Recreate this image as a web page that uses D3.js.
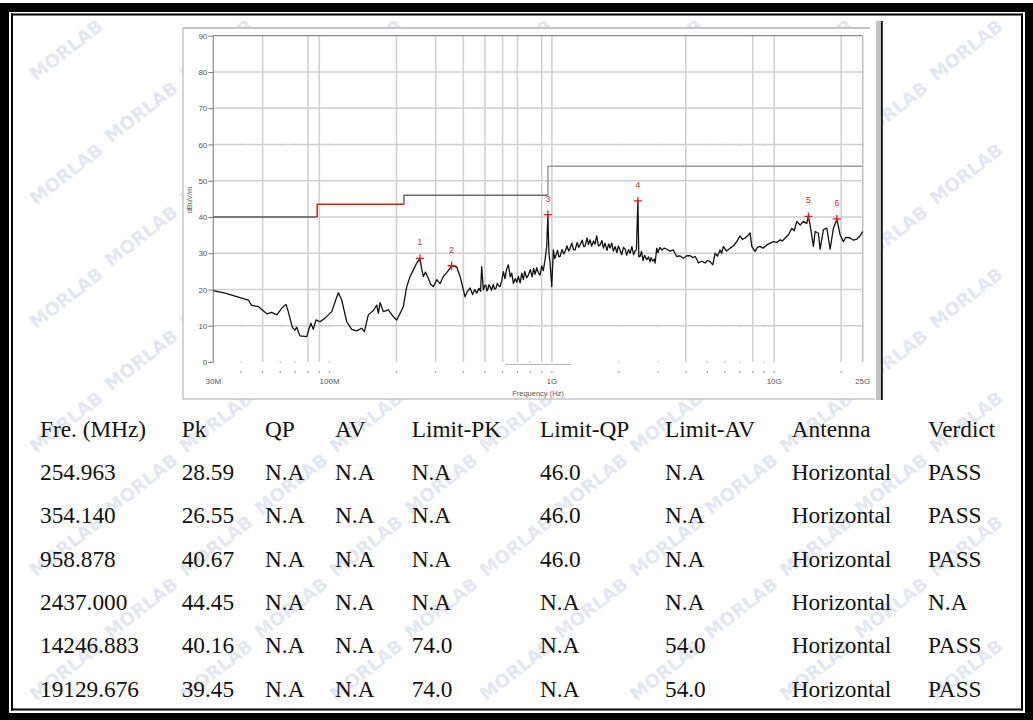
<!DOCTYPE html>
<html>
<head>
<meta charset="utf-8">
<script src="https://cdn.jsdelivr.net/npm/d3@7"></script>
<style>
  html, body { margin: 0; padding: 0; background: #fff; }
  svg { display: block; }
</style>
</head>
<body>
<svg id="page" width="1033" height="720"></svg>
<script>
// trace (MHz / dBuV/m)
const traceFreq = [30, 33.9, 38.9, 43.1, 44.6, 47.8, 52.2, 54.9, 57.9, 60.9, 63.7, 65.2, 68.0, 69.9, 71.2, 73.6, 79.0, 80.9, 82.5, 84.5, 86.9, 90.6, 95.4, 102.3, 106.6, 109.5, 113.4, 119.5, 125.8, 132.5, 139.6, 143.4, 149.4, 157.4, 163.0, 165.7, 168.7, 174.5, 183.8, 193.5, 200.5, 207.5, 214.7, 222.4, 230.2, 238.1, 246.7, 255.0, 260, 264.2, 270, 278.2, 285, 293.0, 303.5, 314, 324.9, 336, 348.3, 354.1, 373.3, 386.4, 406.9, 417, 428.5, 440, 450, 459.2, 470, 477.6, 483.6, 491.6, 498, 505, 510, 515, 521, 527.1, 535, 545, 552, 560, 568, 575, 584.8, 595, 605.1, 615, 625, 637.2, 650, 660, 671.1, 685, 695, 706.6, 720, 732, 744.2, 755, 770, 783.7, 800, 815, 828, 840, 855, 870, 884.8, 900, 915, 931.6, 948.3, 958.9, 970, 981.1, 998.6, 1015, 1030, 1044, 1060, 1075, 1088, 1110, 1130, 1146, 1170, 1190, 1207, 1230, 1250, 1271, 1300, 1320, 1339, 1370, 1390, 1410, 1440, 1460, 1485, 1510, 1540, 1564, 1590, 1620, 1647, 1680, 1705, 1734, 1770, 1800, 1826, 1860, 1890, 1924, 1960, 1990, 2025, 2060, 2100, 2134, 2170, 2210, 2247, 2290, 2330, 2367, 2400, 2437, 2460, 2492, 2530, 2570, 2610, 2671, 2720, 2760, 2793, 2840, 2890, 2912, 2963, 3000, 3060, 3121, 3200, 3286, 3400, 3519, 3590, 3646, 3760, 3904, 4050, 4186, 4300, 4408, 4480, 4561, 4700, 4887, 5000, 5148, 5293, 5420, 5550, 5709, 5800, 5907, 6100, 6331, 6550, 6785, 7020, 7200, 7394, 7600, 7788, 7926, 8203, 8400, 8640, 8900, 9258, 9600, 9915, 10300, 10627, 10900, 11194, 11583, 11998, 12300, 12637, 13077, 13531, 14000, 14247, 14502, 15006, 15274, 15805, 16087, 16646, 17244, 17842, 18463, 19130, 19786, 20473, 21000, 21941, 22700, 23519, 24200, 25000];
const traceLevel = [19.7, 19.0, 17.9, 17.1, 15.6, 15.3, 13.3, 13.7, 13.0, 14.8, 15.9, 13.9, 9.6, 8.8, 9.6, 7.2, 7.0, 9.3, 10.7, 9.0, 11.6, 11.1, 12.1, 13.9, 17.1, 19.1, 17.1, 11.1, 9.0, 8.6, 9.3, 8.4, 13.0, 14.2, 15.7, 13.4, 16.4, 13.9, 14.4, 12.5, 11.6, 13.4, 15.3, 20.8, 23.6, 25.4, 27.3, 28.5, 25.5, 23.6, 24.8, 23.1, 21.4, 20.8, 22.7, 21.6, 23.6, 24.6, 25.9, 26.5, 26.2, 23.6, 18.0, 19.5, 20.4, 18.6, 20.0, 19.0, 20.3, 19.5, 26.3, 19.9, 21.0, 21.2, 19.6, 20.0, 21.3, 20.8, 19.8, 21.4, 20.1, 20.3, 21.7, 21.1, 20.8, 22.5, 24.9, 23.0, 25.5, 26.8, 23.5, 24.5, 21.7, 23.0, 22.0, 23.6, 21.8, 24.5, 22.7, 25.0, 23.2, 24.0, 25.5, 23.5, 25.8, 24.2, 26.0, 24.6, 24.0, 26.5, 25.2, 28.2, 31.9, 40.6, 30.0, 27.3, 20.8, 30.9, 28.5, 29.5, 30.8, 29.0, 29.1, 31.0, 29.8, 30.5, 32.0, 30.6, 31.4, 32.8, 31.0, 30.9, 33.0, 31.6, 32.3, 33.6, 31.8, 32.0, 34.2, 32.4, 33.7, 32.0, 33.4, 32.5, 34.8, 32.0, 32.3, 33.5, 31.4, 32.8, 30.8, 32.6, 31.4, 32.8, 30.6, 31.8, 30.2, 32.0, 30.9, 29.6, 31.6, 31.2, 29.5, 31.0, 30.0, 31.8, 29.6, 30.6, 31.0, 44.4, 29.0, 29.1, 30.5, 28.0, 29.4, 28.2, 29.0, 27.6, 28.8, 27.8, 28.4, 27.3, 31.4, 30.2, 31.6, 30.9, 31.4, 31.1, 30.6, 30.9, 29.8, 29.1, 29.3, 28.6, 29.3, 29.3, 28.8, 29.1, 28.4, 27.3, 27.8, 27.3, 28.0, 27.7, 26.8, 30.0, 29.2, 30.9, 30.0, 31.9, 30.6, 31.4, 32.0, 33.2, 34.8, 33.8, 34.2, 34.8, 35.6, 31.9, 30.5, 31.6, 31.9, 31.4, 32.3, 32.8, 33.2, 33.0, 33.7, 33.4, 34.2, 35.1, 36.9, 36.2, 38.8, 37.8, 38.8, 38.2, 40.1, 37.8, 31.9, 36.0, 35.5, 31.1, 36.5, 36.9, 31.1, 36.9, 39.4, 35.1, 33.2, 34.4, 34.2, 33.6, 33.9, 34.6, 36.0];

// limit line steps
const limitStart = [30, 88, 216, 960];
const limitEnd = [88, 216, 960, 25000];
const limitLevel = [40, 43.5, 46, 54];
const limitColor = ['#5a5a5a', '#e41a1a', '#6a6a6a', '#9a9a9a'];

// grid
const yTicks = [0, 10, 20, 30, 40, 50, 60, 70, 80, 90];
const gridFreq = [50, 80, 90, 200, 300, 400, 500, 600, 700, 900, 1000, 4000, 8000, 10000, 20000];
const faintFreq = [40, 60, 70, 100, 800, 2000, 3000, 5000, 6000, 7000, 9000];
const xLabelFreq = [30, 100, 1000, 10000, 25000];
const xLabelText = ['30M', '100M', '1G', '10G', '25G'];

// result table
const tableHeader = ['Fre. (MHz)', 'Pk', 'QP', 'AV', 'Limit-PK', 'Limit-QP', 'Limit-AV', 'Antenna', 'Verdict'];
const freqCol = ['254.963', '354.140', '958.878', '2437.000', '14246.883', '19129.676'];
const pkCol = ['28.59', '26.55', '40.67', '44.45', '40.16', '39.45'];
const qpCol = ['N.A', 'N.A', 'N.A', 'N.A', 'N.A', 'N.A'];
const avCol = ['N.A', 'N.A', 'N.A', 'N.A', 'N.A', 'N.A'];
const limitPkCol = ['N.A', 'N.A', 'N.A', 'N.A', '74.0', '74.0'];
const limitQpCol = ['46.0', '46.0', '46.0', 'N.A', 'N.A', 'N.A'];
const limitAvCol = ['N.A', 'N.A', 'N.A', 'N.A', '54.0', '54.0'];
const antennaCol = ['Horizontal', 'Horizontal', 'Horizontal', 'Horizontal', 'Horizontal', 'Horizontal'];
const verdictCol = ['PASS', 'PASS', 'PASS', 'N.A', 'PASS', 'PASS'];

const svg = d3.select('#page');

// watermark behind everything (kept inside the page frame)
const wm = svg.append('g').attr('class', 'watermark');
for (let j = 0; j < 11; j++) {
    for (let i = 0; i < 8; i++) {
        const x = 70 + i * 150 + (j % 2) * 75;
        const y = 55 + j * 62;
        if (x > 985 || y > 690) continue;
        wm.append('text')
            .attr('transform', `translate(${x},${y}) rotate(-38)`)
            .attr('text-anchor', 'middle')
            .attr('font-family', 'DejaVu Sans, sans-serif')
            .attr('font-weight', 'bold')
            .attr('font-size', 18)
            .attr('fill', '#e2e7f2')
            .text('MORLAB');
    }
}

// chart picture background
svg.append('rect').attr('x', 183).attr('y', 28).attr('width', 695).attr('height', 371).attr('fill', '#fff');
svg.append('line').attr('x1', 183).attr('x2', 870).attr('y1', 28).attr('y2', 28).attr('stroke', '#c4c4c4').attr('stroke-width', 2);
svg.append('line').attr('x1', 183).attr('x2', 183).attr('y1', 28).attr('y2', 399).attr('stroke', '#c4c4c4').attr('stroke-width', 1.5);
svg.append('line').attr('x1', 183).attr('x2', 875).attr('y1', 399).attr('y2', 399).attr('stroke', '#c4c4c4').attr('stroke-width', 1.5);
svg.append('rect').attr('x', 876).attr('y', 21).attr('width', 5).attr('height', 379).attr('fill', '#c0c0c0');
svg.append('rect').attr('x', 881).attr('y', 21).attr('width', 1.8).attr('height', 379).attr('fill', '#111');

const margin = { left: 213.3, right: 862.7, top: 35.7, bottom: 362 };

const xScale = d3.scaleLog().domain([30, 25000]).range([margin.left, margin.right]);
const yScale = d3.scaleLinear().domain([0, 90]).range([margin.bottom, margin.top]);

const chart = svg.append('g').attr('class', 'chart');

// horizontal grid
chart.selectAll('.hgrid')
    .data(yTicks.filter(d => d > 0 && d < 90))
    .join('line')
    .attr('x1', margin.left).attr('x2', margin.right)
    .attr('y1', d => yScale(d)).attr('y2', d => yScale(d))
    .attr('stroke', '#cfcfcf').attr('stroke-width', 1.5);

// vertical grid
chart.selectAll('.vgrid')
    .data(gridFreq)
    .join('line')
    .attr('x1', d => xScale(d)).attr('x2', d => xScale(d))
    .attr('y1', margin.top).attr('y2', margin.bottom)
    .attr('stroke', '#cfcfcf').attr('stroke-width', 1.5);

// faint grid remnants (dots)
const dotRows = [0, 10, 60];
faintFreq.forEach(f => {
    dotRows.forEach(r => {
        chart.append('rect')
            .attr('x', xScale(f) - 0.7).attr('y', yScale(r) - 0.7)
            .attr('width', 1.4).attr('height', 1.4)
            .attr('fill', '#bdbdbd');
    });
});

// bottom minor ticks
chart.selectAll('.xtick')
    .data(gridFreq.concat(faintFreq))
    .join('rect')
    .attr('x', d => xScale(d) - 0.7).attr('y', 371)
    .attr('width', 1.4).attr('height', 1.6)
    .attr('fill', '#999');

// plot frame
chart.append('line')
    .attr('x1', margin.left).attr('x2', margin.right)
    .attr('y1', margin.top).attr('y2', margin.top)
    .attr('stroke', '#8a8a8a').attr('stroke-width', 1.2);
chart.append('line')
    .attr('x1', margin.right).attr('x2', margin.right)
    .attr('y1', margin.top).attr('y2', margin.bottom)
    .attr('stroke', '#bdbdbd').attr('stroke-width', 1.5);
chart.append('line')
    .attr('x1', margin.left).attr('x2', margin.left)
    .attr('y1', margin.top).attr('y2', margin.bottom)
    .attr('stroke', '#8a8a8a').attr('stroke-width', 1.2);
chart.append('line')
    .attr('x1', 505).attr('x2', 571)
    .attr('y1', 364.5).attr('y2', 364.5)
    .attr('stroke', '#b5b5b5').attr('stroke-width', 1);

// y axis
const yAxis = d3.axisLeft(yScale).tickValues(yTicks).tickSize(5).tickPadding(1);
const yAxisG = chart.append('g')
    .attr('transform', `translate(${margin.left},0)`)
    .call(yAxis);
yAxisG.select('.domain').remove();
yAxisG.selectAll('line').attr('stroke', '#777');
yAxisG.selectAll('text')
    .attr('font-family', 'Liberation Sans, Arial, sans-serif')
    .attr('font-size', 8)
    .attr('fill', '#555');

chart.append('text')
    .attr('transform', 'translate(192,200) rotate(-90)')
    .attr('text-anchor', 'middle')
    .attr('font-family', 'Liberation Sans, Arial, sans-serif')
    .attr('font-size', 7.5)
    .attr('fill', '#555')
    .text('dBuV/m');

// x labels
chart.selectAll('.xlabel')
    .data(xLabelFreq)
    .join('text')
    .attr('x', d => xScale(d))
    .attr('y', 384)
    .attr('text-anchor', 'middle')
    .attr('font-family', 'Liberation Sans, Arial, sans-serif')
    .attr('font-size', 8)
    .attr('fill', '#555')
    .text((d, i) => xLabelText[i]);

chart.append('text')
    .attr('x', 538).attr('y', 395.5)
    .attr('text-anchor', 'middle')
    .attr('font-family', 'Liberation Sans, Arial, sans-serif')
    .attr('font-size', 7.5)
    .attr('fill', '#555')
    .text('Frequency (Hz)');

// limit line (step per segment)
limitLevel.forEach((v, i) => {
    chart.append('path')
        .attr('d', d3.line()([[xScale(limitStart[i]), yScale(i === 0 ? v : limitLevel[i - 1])],
            [xScale(limitStart[i]), yScale(v)], [xScale(limitEnd[i]), yScale(v)]]))
        .attr('fill', 'none')
        .attr('stroke', limitColor[i])
        .attr('stroke-width', 1.5);
});

// trace
const trace = traceFreq.map((f, i) => [f, traceLevel[i]]);
chart.append('path')
    .datum(trace)
    .attr('d', d3.line().x(d => xScale(d[0])).y(d => yScale(d[1])))
    .attr('fill', 'none')
    .attr('stroke', '#111')
    .attr('stroke-width', 1.3)
    .attr('stroke-linejoin', 'round');

// markers
const markers = freqCol.map((f, i) => ({ f: +f, v: +pkCol[i], n: i + 1 }));
const mG = chart.selectAll('.marker').data(markers).join('g')
    .attr('transform', d => `translate(${xScale(d.f)},${yScale(d.v)})`);
mG.append('path')
    .attr('d', 'M-4,0H4M0,-4V4')
    .attr('stroke', '#e41a1a').attr('stroke-width', 1.3);
mG.append('text')
    .attr('y', -13)
    .attr('text-anchor', 'middle')
    .attr('font-family', 'Liberation Sans, Arial, sans-serif')
    .attr('font-size', 8.5)
    .attr('fill', '#e41a1a')
    .text(d => d.n);

// table
const colX = [40, 181.7, 265, 335, 411.7, 540, 665, 791.7, 928];
const cols = [freqCol, pkCol, qpCol, avCol, limitPkCol, limitQpCol, limitAvCol, antennaCol, verdictCol];
const table = svg.append('g')
    .attr('font-family', 'Liberation Serif, Times New Roman, serif')
    .attr('font-size', 23.3)
    .attr('fill', '#111');
tableHeader.forEach((h, c) => {
    table.append('text').attr('x', colX[c]).attr('y', 436.7).text(h);
});
freqCol.forEach((_, r) => {
    cols.forEach((col, c) => {
        table.append('text').attr('x', colX[c]).attr('y', 480 + r * 43.3).text(col[r]);
    });
});

// page frame
const frame = svg.append('g').attr('fill', '#000');
frame.append('rect').attr('x', 0).attr('y', 3).attr('width', 1033).attr('height', 9);
frame.append('rect').attr('x', 11).attr('y', 13.5).attr('width', 1012).attr('height', 2);
frame.append('rect').attr('x', 0).attr('y', 3).attr('width', 9).attr('height', 717);
frame.append('rect').attr('x', 11).attr('y', 13.5).attr('width', 2).attr('height', 697);
frame.append('rect').attr('x', 0).attr('y', 713).attr('width', 1033).attr('height', 7);
frame.append('rect').attr('x', 11).attr('y', 708.5).attr('width', 1012).attr('height', 2);
frame.append('rect').attr('x', 1021).attr('y', 13.5).attr('width', 2).attr('height', 697);
frame.append('rect').attr('x', 1025).attr('y', 3).attr('width', 8).attr('height', 717);
</script>
</body>
</html>
